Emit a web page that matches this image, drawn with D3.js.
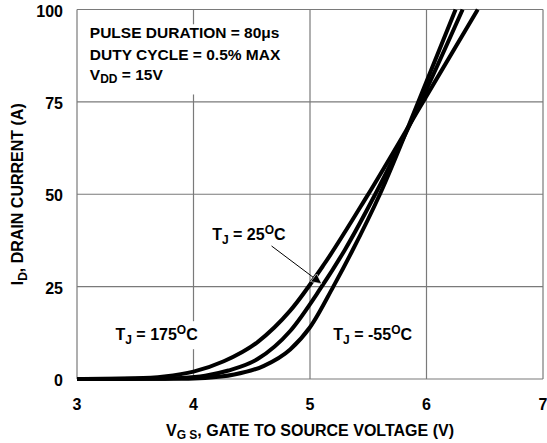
<!DOCTYPE html>
<html>
<head>
<meta charset="utf-8">
<script src="https://cdn.jsdelivr.net/npm/d3@7"></script>
<style>
  body { margin: 0; background: #fff; }
  svg text { font-family: 'Liberation Sans', Arial, sans-serif; font-weight: bold; fill: #000; }
</style>
</head>
<body>
<div id="chart"></div>
<script>
var width = 547;
var height = 443;
var margin = { top: 9.5, right: 4, bottom: 64, left: 77 };
var graphWidth = width - margin.left - margin.right;
var graphHeight = height - margin.top - margin.bottom;

// gate voltage (V) and drain current (A)
var vgs175 = [3, 3.5, 3.75, 4.0, 4.26, 4.55, 4.83, 5.12, 5.49, 5.97, 6.44];
var id175 = [0, 0.2, 0.7, 2.0, 4.8, 10, 18.5, 31, 49.5, 75, 100];
var vgs25 = [3, 3.6, 3.9, 4.1, 4.3, 4.55, 4.83, 5.09, 5.3, 5.56, 5.95, 6.31];
var id25 = [0, 0.05, 0.3, 0.9, 2.3, 5.4, 13, 24.5, 35, 50, 75, 100];
var vgsM55 = [3, 3.8, 4.1, 4.35, 4.6, 4.83, 5.0, 5.2, 5.36, 5.6, 5.93, 6.25];
var idM55 = [0, 0.05, 0.3, 1.2, 3.5, 8, 14, 25, 34.5, 50, 75, 100];

var xTicks = [3, 4, 5, 6, 7];
var yTicks = [0, 25, 50, 75, 100];

var series = [
  { name: '175', v: vgs175, i: id175 },
  { name: '25', v: vgs25, i: id25 },
  { name: '-55', v: vgsM55, i: idM55 }
];

var svg = d3
  .select('#chart')
  .append('svg')
  .attr('width', width)
  .attr('height', height);

var graph = svg
  .append('g')
  .attr('transform', 'translate(' + margin.left + ',' + margin.top + ')');

var x = d3.scaleLinear().domain([3, 7]).range([0, graphWidth]);
var y = d3.scaleLinear().domain([0, 100]).range([graphHeight, 0]);

// grid
graph
  .append('g')
  .selectAll('line')
  .data(xTicks)
  .enter()
  .append('line')
  .attr('x1', d => x(d))
  .attr('x2', d => x(d))
  .attr('y1', 0)
  .attr('y2', graphHeight)
  .attr('stroke', '#7a7a7a')
  .attr('stroke-width', 1.2);

graph
  .append('g')
  .selectAll('line')
  .data(yTicks)
  .enter()
  .append('line')
  .attr('x1', 0)
  .attr('x2', graphWidth)
  .attr('y1', d => y(d))
  .attr('y2', d => y(d))
  .attr('stroke', '#7a7a7a')
  .attr('stroke-width', 1.2);

// white patch behind the test conditions
graph
  .append('rect')
  .attr('x', x(3.1))
  .attr('y', y(96))
  .attr('width', x(4.9) - x(3.1))
  .attr('height', y(77) - y(96))
  .attr('fill', '#fff');

// tick labels
svg
  .append('g')
  .selectAll('text')
  .data(xTicks)
  .enter()
  .append('text')
  .attr('x', d => margin.left + x(d))
  .attr('y', margin.top + graphHeight + 31)
  .attr('text-anchor', 'middle')
  .attr('font-size', 16)
  .text(d => d);

svg
  .append('g')
  .selectAll('text')
  .data(yTicks)
  .enter()
  .append('text')
  .attr('x', margin.left - 14)
  .attr('y', d => margin.top + y(d) + 7)
  .attr('text-anchor', 'end')
  .attr('font-size', 16)
  .text(d => d);

// curves
var line = d3
  .line()
  .x(d => x(d[0]))
  .y(d => y(d[1]))
  .curve(d3.curveMonotoneX);

graph
  .append('g')
  .selectAll('path')
  .data(series)
  .enter()
  .append('path')
  .attr('d', d => line(d.v.map((v, k) => [v, d.i[k]])))
  .attr('fill', 'none')
  .attr('stroke', '#000')
  .attr('stroke-width', 4);

// test conditions
var cond = graph.append('g').attr('font-size', 15.5);
cond.append('text').attr('x', x(3.11)).attr('y', y(92.3)).text('PULSE DURATION = 80\u03bcs');
cond.append('text').attr('x', x(3.11)).attr('y', y(86.3)).text('DUTY CYCLE = 0.5% MAX');
var vdd = cond.append('text').attr('x', x(3.11)).attr('y', y(80.8));
vdd.append('tspan').text('V');
vdd.append('tspan').attr('font-size', 12).attr('dy', 3).text('DD');
vdd.append('tspan').attr('dy', -3).text(' = 15V');

// curve labels, each on a small white patch
function tjLabel(vx, iy, temp) {
  var g = graph.append('g');
  var bg = g.append('rect').attr('fill', '#fff');
  var t = g.append('text').attr('x', x(vx)).attr('y', y(iy)).attr('font-size', 16);
  t.append('tspan').text('T');
  t.append('tspan').attr('font-size', 12).attr('dy', 4).text('J');
  t.append('tspan').attr('dy', -4).text(' = ' + temp);
  t.append('tspan').attr('font-size', 12).attr('dy', -6).text('O');
  t.append('tspan').attr('dy', 6).text('C');
  var b = t.node().getBBox();
  bg.attr('x', b.x - 1).attr('y', b.y - 2).attr('width', b.width + 2).attr('height', b.height + 4);
}
tjLabel(3.33, 10.5, '175');
tjLabel(4.16, 37.6, '25');
tjLabel(5.2, 10.5, '-55');

// arrow to the 25C curve
svg
  .append('defs')
  .append('marker')
  .attr('id', 'arrow')
  .attr('viewBox', '0 0 10 10')
  .attr('refX', 10)
  .attr('refY', 5)
  .attr('markerWidth', 20)
  .attr('markerHeight', 10)
  .attr('markerUnits', 'userSpaceOnUse')
  .attr('orient', 'auto')
  .append('path')
  .attr('d', 'M0,0L10,5L0,10z')
  .attr('fill', '#000')
  .attr('stroke', '#fff')
  .attr('stroke-width', 0.6);

graph
  .append('line')
  .attr('x1', x(4.67))
  .attr('y1', y(36))
  .attr('x2', x(5.1))
  .attr('y2', y(25.8))
  .attr('stroke', '#000')
  .attr('stroke-width', 1)
  .attr('marker-end', 'url(#arrow)');

// axis titles
var xt = svg
  .append('text')
  .attr('x', margin.left + x(5))
  .attr('y', 436)
  .attr('text-anchor', 'middle')
  .attr('font-size', 16);
xt.append('tspan').text('V');
xt.append('tspan').attr('font-size', 12).attr('dy', 3).text('G S');
xt.append('tspan').attr('dy', -3).text(', GATE TO SOURCE VOLTAGE (V)');

var yt = svg
  .append('text')
  .attr('transform', 'translate(23,' + (margin.top + y(50)) + ') rotate(-90)')
  .attr('text-anchor', 'middle')
  .attr('font-size', 16);
yt.append('tspan').text('I');
yt.append('tspan').attr('font-size', 12).attr('dy', 4).text('D');
yt.append('tspan').attr('dy', -4).text(', DRAIN CURRENT (A)');
</script>
</body>
</html>
